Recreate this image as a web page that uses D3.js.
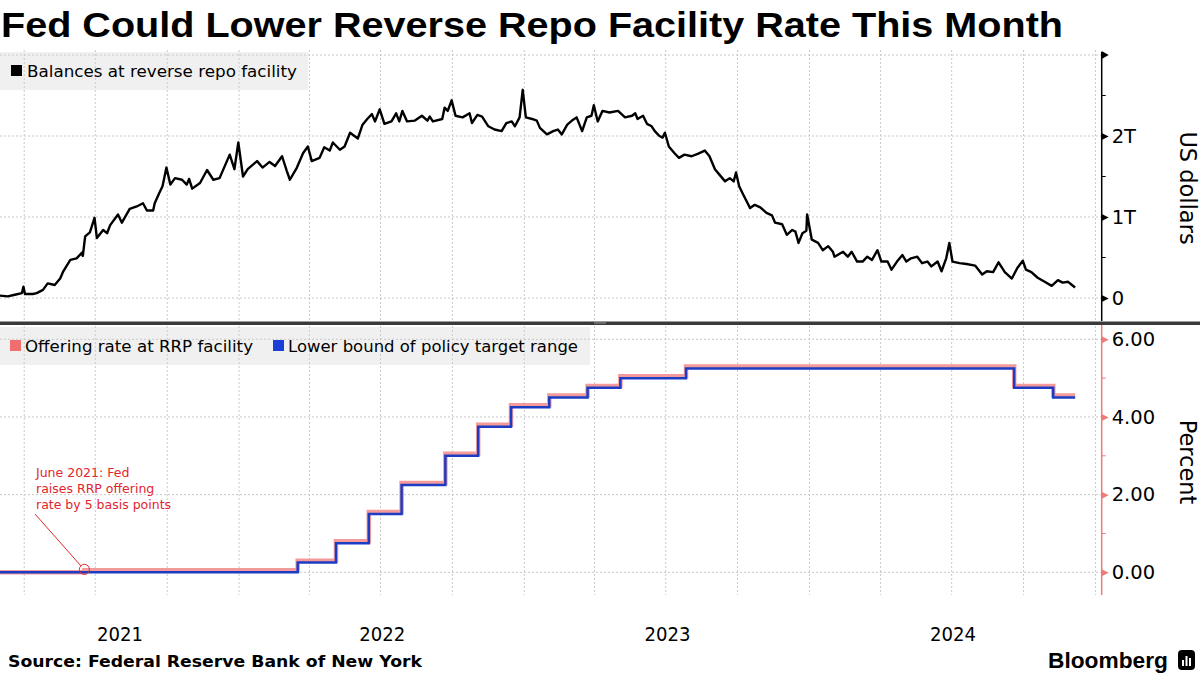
<!DOCTYPE html>
<html><head><meta charset="utf-8">
<script src="https://cdn.jsdelivr.net/npm/d3@7"></script>
<style>body{margin:0;background:#fff}svg{display:block}</style>
</head><body>
<svg id="c" width="1200" height="675"></svg>
<script>
// ---------------- DATA ----------------
const balDates = ["2021-03-01","2021-03-11","2021-03-20","2021-03-29","2021-03-31","2021-04-02","2021-04-12","2021-04-17","2021-04-25","2021-05-01","2021-05-10","2021-05-17","2021-05-21","2021-05-30","2021-06-07","2021-06-14","2021-06-15","2021-06-18","2021-06-24","2021-06-30","2021-07-03","2021-07-11","2021-07-16","2021-07-20","2021-07-30","2021-08-04","2021-08-14","2021-08-23","2021-08-31","2021-09-05","2021-09-13","2021-09-15","2021-09-21","2021-09-25","2021-09-30","2021-10-05","2021-10-11","2021-10-20","2021-10-26","2021-10-29","2021-11-02","2021-11-12","2021-11-21","2021-11-29","2021-12-07","2021-12-20","2021-12-26","2021-12-31",
"2022-01-06","2022-01-12","2022-01-24","2022-01-31","2022-02-09","2022-02-16","2022-02-25","2022-03-03","2022-03-07","2022-03-16","2022-03-24","2022-03-30","2022-04-04","2022-04-14","2022-04-20","2022-04-27","2022-05-01","2022-05-10","2022-05-16","2022-05-23","2022-06-02","2022-06-08","2022-06-14","2022-06-20","2022-06-24","2022-06-30","2022-07-06","2022-07-15","2022-07-21","2022-07-25","2022-07-29","2022-08-04","2022-08-14","2022-08-23","2022-08-30","2022-09-02","2022-09-06","2022-09-18","2022-09-21","2022-09-25","2022-09-30","2022-10-05","2022-10-14","2022-10-23","2022-10-26","2022-11-02","2022-11-08","2022-11-16","2022-11-24","2022-12-03","2022-12-09","2022-12-16","2022-12-20","2022-12-26","2022-12-30",
"2023-01-03","2023-01-11","2023-01-17","2023-01-21","2023-01-30","2023-02-07","2023-02-13","2023-02-18","2023-02-25","2023-03-03","2023-03-09","2023-03-16","2023-03-22","2023-03-28","2023-03-31","2023-04-05","2023-04-11","2023-04-20","2023-05-01","2023-05-10","2023-05-19","2023-05-23","2023-05-26","2023-06-02","2023-06-07","2023-06-13","2023-06-17","2023-06-23","2023-06-27","2023-06-30","2023-07-05","2023-07-12","2023-07-18","2023-07-25","2023-08-03","2023-08-11","2023-08-20","2023-08-26","2023-09-02","2023-09-08","2023-09-15","2023-09-21","2023-09-26","2023-09-29","2023-10-03","2023-10-08","2023-10-17","2023-10-23","2023-10-30","2023-11-07","2023-11-14","2023-11-18","2023-11-27","2023-12-03","2023-12-10","2023-12-14","2023-12-18","2023-12-23","2023-12-28","2023-12-29",
"2024-01-04","2024-01-12","2024-01-18","2024-01-25","2024-01-31","2024-02-02","2024-02-13","2024-02-19","2024-02-24","2024-03-02","2024-03-09","2024-03-15","2024-03-21","2024-03-28","2024-04-02","2024-04-10","2024-04-15","2024-04-22","2024-04-29","2024-05-04","2024-05-10","2024-05-18","2024-05-24","2024-05-31","2024-06-05","2024-06-13","2024-06-18","2024-06-24","2024-06-28","2024-07-02","2024-07-11","2024-07-20","2024-07-31","2024-08-09","2024-08-15","2024-08-23","2024-08-30","2024-09-07","2024-09-16","2024-09-23","2024-09-30","2024-10-04","2024-10-11","2024-10-19","2024-10-28","2024-11-06","2024-11-14","2024-11-20","2024-11-27","2024-12-02","2024-12-06"];
const balValues = [0.03,0.02,0.04,0.06,0.14,0.05,0.05,0.06,0.10,0.18,0.16,0.24,0.33,0.47,0.49,0.56,0.52,0.76,0.81,0.99,0.74,0.84,0.80,0.90,1.03,0.93,1.10,1.13,1.17,1.08,1.08,1.17,1.30,1.38,1.61,1.40,1.48,1.46,1.40,1.47,1.35,1.42,1.58,1.46,1.48,1.77,1.59,1.92,
1.50,1.59,1.69,1.61,1.68,1.63,1.75,1.57,1.46,1.61,1.79,1.87,1.69,1.73,1.86,1.82,1.92,1.83,1.87,2.04,1.97,2.14,2.21,2.27,2.18,2.33,2.15,2.18,2.28,2.18,2.31,2.18,2.19,2.25,2.19,2.24,2.18,2.21,2.35,2.31,2.44,2.25,2.23,2.28,2.16,2.26,2.24,2.12,2.08,2.06,2.16,2.18,2.12,2.23,2.57,
2.23,2.21,2.19,2.10,2.02,2.06,2.08,2.02,2.14,2.19,2.23,2.06,2.23,2.25,2.38,2.18,2.31,2.29,2.31,2.23,2.25,2.28,2.21,2.25,2.15,2.12,2.06,2.00,1.98,2.04,1.87,1.79,1.73,1.77,1.75,1.78,1.82,1.75,1.59,1.52,1.44,1.48,1.44,1.55,1.38,1.28,1.11,1.15,1.12,1.05,1.02,0.93,0.91,0.78,0.84,0.82,0.68,0.80,0.83,1.03,
0.72,0.68,0.59,0.64,0.57,0.51,0.57,0.51,0.57,0.45,0.45,0.51,0.47,0.59,0.45,0.45,0.35,0.45,0.53,0.45,0.49,0.51,0.43,0.45,0.39,0.45,0.33,0.49,0.68,0.45,0.43,0.42,0.40,0.29,0.33,0.32,0.44,0.32,0.24,0.37,0.46,0.35,0.32,0.25,0.20,0.15,0.22,0.19,0.20,0.16,0.13];

const rateDates  = ["2021-03-01","2021-06-17","2022-03-17","2022-05-05","2022-06-16","2022-07-28","2022-09-22","2022-11-03","2022-12-15","2023-02-02","2023-03-23","2023-05-04","2023-07-27","2024-09-19","2024-11-08","2024-12-06"];
const rrpRate    = [0.00,0.05,0.30,0.80,1.55,2.30,3.05,3.80,4.30,4.55,4.80,5.05,5.30,4.80,4.55,4.55];
const lowerBound = [0.00,0.00,0.25,0.75,1.50,2.25,3.00,3.75,4.25,4.50,4.75,5.00,5.25,4.75,4.50,4.50];

const balTicks = [0,1,2], balTickLabels = ["0","1T","2T"], balMinor = [0.5,1.5,2.5];
const rateTicks = [0,2,4,6], rateTickLabels = ["0.00","2.00","4.00","6.00"], rateMinor = [1,3,5];
const yearLabels = ["2021","2022","2023","2024"];
const domainDates = ["2021-03-01","2025-01-09"];
const annotation = {date:"2021-06-17", value:0.05, lines:["June 2021: Fed","raises RRP offering","rate by 5 basis points"]};

// ---------------- DRAW ----------------
const parse = d3.timeParse("%Y-%m-%d");
const svg = d3.select("#c");
const FONT = "'DejaVu Sans', Verdana, sans-serif";
const AX = 1101.7;
const x = d3.scaleTime().domain(domainDates.map(parse)).range([0, AX]);
const yTop = d3.scaleLinear().domain([0,3]).range([298, 55]);
const yBot = d3.scaleLinear().domain([0,6]).range([572.3, 339.3]);
const topPanel = [50, 321], botPanel = [326, 595];
const grid = "#c9c9c9";
const red = "#e2262c";
const pinkAxis = "#f07a7a";

// Title
svg.append("text").attr("x",1).attr("y",37).attr("font-family","'Liberation Sans', Arial, sans-serif")
  .attr("font-weight","bold").attr("font-size",35).attr("textLength",1062).attr("lengthAdjust","spacingAndGlyphs")
  .attr("fill","#000").text("Fed Could Lower Reverse Repo Facility Rate This Month");

// Legend boxes (under grid)
svg.append("rect").attr("x",0).attr("y",52).attr("width",308).attr("height",38).attr("fill","#f0f0f0");
svg.append("rect").attr("x",0).attr("y",327).attr("width",590).attr("height",38).attr("fill","#f0f0f0");

// Vertical gridlines at quarter starts
const quarters = d3.timeMonth.every(3).range(x.domain()[0], x.domain()[1]).filter(d => [0,3,6,9].includes(d.getMonth()) && +d > +x.domain()[0]);
[topPanel, botPanel].forEach(p => {
  svg.append("g").selectAll("line").data(quarters).join("line")
    .attr("x1", d => x(d)).attr("x2", d => x(d)).attr("y1", p[0]).attr("y2", p[1])
    .attr("stroke", grid).attr("stroke-dasharray","2,2").attr("stroke-width",1);
});
// Horizontal gridlines
svg.append("g").selectAll("line").data([0,1,2,3]).join("line")
  .attr("x1",0).attr("x2",AX).attr("y1",d=>yTop(d)).attr("y2",d=>yTop(d))
  .attr("stroke",grid).attr("stroke-dasharray","2,2");
svg.append("g").selectAll("line").data(rateTicks).join("line")
  .attr("x1",0).attr("x2",AX).attr("y1",d=>yBot(d)).attr("y2",d=>yBot(d))
  .attr("stroke",grid).attr("stroke-dasharray","2,2");

// Legends
svg.append("rect").attr("x",11).attr("y",65).attr("width",11).attr("height",11).attr("fill","#000");
svg.append("text").attr("x",27).attr("y",77).attr("font-family",FONT).attr("font-size",16.5).attr("textLength",270).attr("lengthAdjust","spacingAndGlyphs").text("Balances at reverse repo facility");
svg.append("rect").attr("x",10).attr("y",340).attr("width",11).attr("height",11).attr("fill","#f26d6d");
svg.append("text").attr("x",25).attr("y",352).attr("font-family",FONT).attr("font-size",16.5).attr("textLength",228).attr("lengthAdjust","spacingAndGlyphs").text("Offering rate at RRP facility");
svg.append("rect").attr("x",273).attr("y",340).attr("width",11).attr("height",11).attr("fill","#1b3fd6");
svg.append("text").attr("x",288).attr("y",352).attr("font-family",FONT).attr("font-size",16.5).attr("textLength",290).attr("lengthAdjust","spacingAndGlyphs").text("Lower bound of policy target range");

// Balance line
const bal = balDates.map((d,i)=>({d:parse(d), v:balValues[i]}));
svg.append("path").datum(bal).attr("fill","none").attr("stroke","#000").attr("stroke-width",2.4).attr("stroke-linejoin","round")
  .attr("d", d3.line().x(p=>x(p.d)).y(p=>yTop(p.v)));

// Rate lines
const rrp = rateDates.map((d,i)=>({d:parse(d), v:rrpRate[i]}));
const lb = rateDates.map((d,i)=>({d:parse(d), v:lowerBound[i]}));
const stepLine = d3.line().x(p=>x(p.d)).y(p=>yBot(p.v)).curve(d3.curveStepAfter);
svg.append("path").datum(rrp).attr("fill","none").attr("stroke","#f49a9a").attr("stroke-width",4.5).attr("d",stepLine);
svg.append("path").datum(lb).attr("fill","none").attr("stroke","#1d3cc4").attr("stroke-width",2.5).attr("d",stepLine);

// Annotation
const ax0 = x(parse(annotation.date)), ay0 = yBot(annotation.value) - 1;
svg.append("circle").attr("cx",ax0).attr("cy",ay0).attr("r",5).attr("fill","none").attr("stroke",red).attr("stroke-width",1);
svg.append("line").attr("x1",35).attr("y1",514).attr("x2",ax0-3.5).attr("y2",ay0-3.5).attr("stroke",red).attr("stroke-width",1);
svg.append("g").selectAll("text").data(annotation.lines).join("text")
  .attr("x",36).attr("y",(d,i)=>477+i*16).attr("font-family",FONT).attr("font-size",12.5).attr("fill",red).text(d=>d);

// Divider
svg.append("rect").attr("x",0).attr("y",321.5).attr("width",1200).attr("height",3.5).attr("fill","#3a3a3a");
svg.append("line").attr("x1",594).attr("x2",606).attr("y1",323).attr("y2",323).attr("stroke","#9a9a9a").attr("stroke-width",1);

// Right axes
function rightAxis(scale, ticks, labels, minor, color, range, tickColor) {
  const g = svg.append("g").attr("transform",`translate(${AX},0)`);
  const axis = d3.axisRight(scale).tickValues(ticks).tickSize(0).tickPadding(10)
    .tickFormat((d,i)=>labels[i]);
  g.call(axis);
  g.select(".domain").remove();
  g.selectAll(".tick text").attr("font-family",FONT).attr("font-size",19.5).attr("fill","#000");
  g.append("line").attr("x1",0).attr("x2",0).attr("y1",range[0]).attr("y2",range[1]).attr("stroke",color).attr("stroke-width",1.5);
  g.selectAll(".tick").append("path").attr("d","M0,-3.5L7,0L0,3.5Z").attr("fill",tickColor);
  g.append("g").selectAll("line").data(minor).join("line")
    .attr("x1",0).attr("x2",4).attr("y1",d=>scale(d)).attr("y2",d=>scale(d)).attr("stroke",color);
  return g;
}
const gt = rightAxis(yTop, balTicks, balTickLabels, balMinor, "#000", [52, 321], "#000");
gt.append("path").attr("d",`M0,${yTop(3)-4}L7,${yTop(3)}L0,${yTop(3)+4}Z`).attr("fill","#000");
rightAxis(yBot, rateTicks, rateTickLabels, rateMinor, pinkAxis, [325, 595], pinkAxis);

// Axis titles
svg.append("text").attr("transform","translate(1180,188) rotate(90)").attr("text-anchor","middle")
  .attr("font-family",FONT).attr("font-size",22.5).attr("fill","#000").text("US dollars");
svg.append("text").attr("transform","translate(1180,462) rotate(90)").attr("text-anchor","middle")
  .attr("font-family",FONT).attr("font-size",22.5).attr("fill","#000").text("Percent");

// Bottom axis: year labels centred on visible part of each year
const [d0, d1] = x.domain();
const yearMid = yearLabels.map(y => {
  const a = new Date(Math.max(+new Date(+y,0,1), +d0));
  const b = new Date(Math.min(+new Date(+y+1,0,1), +d1));
  return new Date((+a + +b)/2);
});
const gx = svg.append("g").attr("transform","translate(0,622)")
  .call(d3.axisBottom(x).tickValues(yearMid).tickSize(0).tickPadding(6).tickFormat((d,i)=>yearLabels[i]));
gx.select(".domain").remove();
gx.selectAll(".tick text").attr("font-family",FONT).attr("font-size",19).attr("fill","#000")
  .attr("textLength",46).attr("lengthAdjust","spacingAndGlyphs");

// Footer
svg.append("text").attr("x",8).attr("y",667).attr("font-family",FONT).attr("font-weight","bold").attr("font-size",16.5)
  .attr("textLength",414).attr("lengthAdjust","spacingAndGlyphs").text("Source: Federal Reserve Bank of New York");
svg.append("text").attr("x",1048).attr("y",668).attr("font-family","'Liberation Sans', Arial, sans-serif").attr("font-weight","bold").attr("font-size",22)
  .attr("textLength",120).attr("lengthAdjust","spacingAndGlyphs").text("Bloomberg");
svg.append("rect").attr("x",1178).attr("y",650).attr("width",17).attr("height",20).attr("rx",4).attr("fill","#000");
[[1182,660,2,6],[1185.5,656,2,10],[1189,658,2,8]].forEach(r=>svg.append("rect").attr("x",r[0]).attr("y",r[1]).attr("width",r[2]).attr("height",r[3]).attr("fill","#fff"));
</script>
</body></html>
